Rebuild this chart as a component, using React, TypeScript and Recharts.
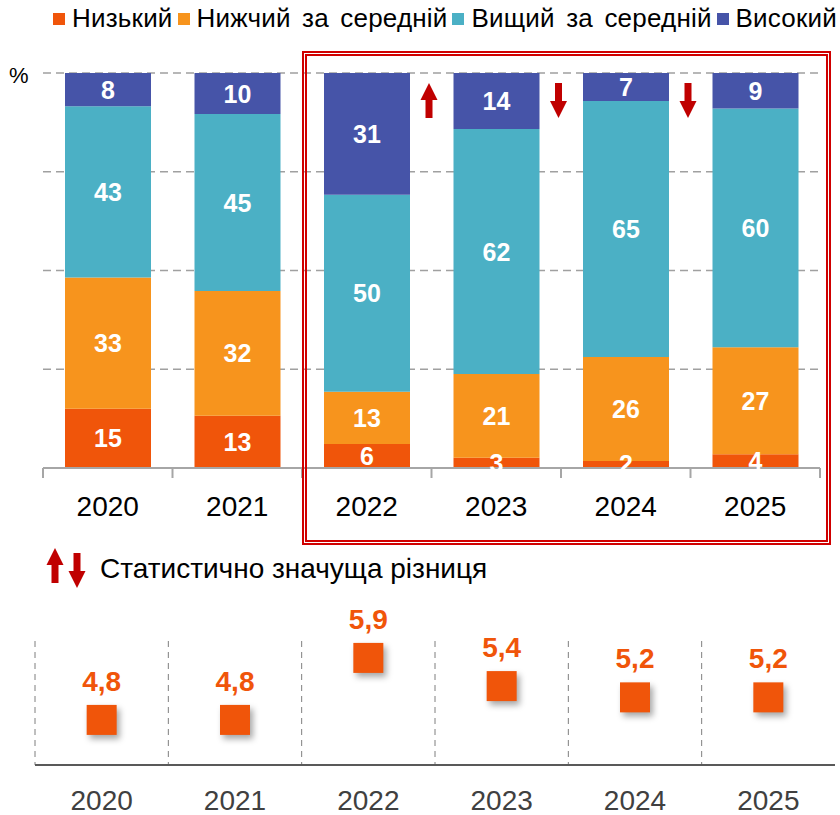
import React from "react";
import { BarChart, Bar, XAxis, YAxis, CartesianGrid, LabelList, ComposedChart, Line } from "recharts";

// ---- data ----
const years = ["2020", "2021", "2022", "2023", "2024", "2025"];
const lowShare = [15.0, 13.2, 6.1, 2.6, 1.8, 3.5];
const lowerMidShare = [33.2, 31.6, 13.2, 21.2, 26.3, 27.1];
const upperMidShare = [43.4, 44.8, 49.9, 62.0, 64.8, 60.4];
const highShare = [8.4, 10.4, 30.8, 14.2, 7.1, 9.0];
const significance = ["", "", "up", "down", "down", ""];
const avgScore = [4.8, 4.8, 5.9, 5.4, 5.2, 5.2];
const seriesKeys = ["low", "lowerMid", "upperMid", "high"];
const seriesNames = ["Низький", "Нижчий за середній", "Вищий за середній", "Високий"];
const seriesColors = ["#F0550A", "#F7941D", "#4BB0C5", "#4654A8"];
const yTicks = [0, 25, 50, 75, 100];
const footnoteText = "Статистично значуща різниця";
const unitLabel = "%";

const FONT = "'Liberation Sans', Arial, sans-serif";
const RED = "#C00000";

const TOP_W = 840;
const TOP_H = 540;
const TOP_MARGIN = { top: 73, right: 20, left: 43, bottom: 0 };
const BAND = (TOP_W - TOP_MARGIN.left - TOP_MARGIN.right) / years.length;

const shareData = years.map((y, i) => ({
  year: y,
  low: lowShare[i],
  lowerMid: lowerMidShare[i],
  upperMid: upperMidShare[i],
  high: highShare[i],
  sig: significance[i],
}));

const scoreData = years.map((y, i) => ({ year: y, score: avgScore[i] }));

const arrowPoints = (cx: number, y0: number, dir: string, h = 35, hw = 8.5, hh = 17, sw = 3.5) => {
  if (dir === "up") {
    return [
      [cx, y0], [cx + hw, y0 + hh], [cx + sw, y0 + hh], [cx + sw, y0 + h],
      [cx - sw, y0 + h], [cx - sw, y0 + hh], [cx - hw, y0 + hh],
    ].map((p) => p.join(",")).join(" ");
  }
  return [
    [cx, y0 + h], [cx + hw, y0 + h - hh], [cx + sw, y0 + h - hh], [cx + sw, y0],
    [cx - sw, y0], [cx - sw, y0 + h - hh], [cx - hw, y0 + h - hh],
  ].map((p) => p.join(",")).join(" ");
};

const SegLabel = (p: any) => {
  const x = Number(p.x ?? p.viewBox?.x);
  const y = Number(p.y ?? p.viewBox?.y);
  const w = Number(p.width ?? p.viewBox?.width);
  const h = Number(p.height ?? p.viewBox?.height);
  return (
    <text
      x={x + w / 2}
      y={y + h / 2}
      textAnchor="middle"
      dominantBaseline="central"
      fill="#fff"
      fontWeight="bold"
      fontSize={25}
      fontFamily={FONT}
    >
      {Math.round(Number(p.value))}
    </text>
  );
};

const SigArrow = (p: any) => {
  if (!p.value) return null;
  const x = Number(p.x ?? p.viewBox?.x);
  const y = Number(p.y ?? p.viewBox?.y);
  const w = Number(p.width ?? p.viewBox?.width);
  return <polygon points={arrowPoints(x + w + 19, y + 10, p.value)} fill={RED} />;
};

const TopTick = (p: any) => {
  const { x, y, payload } = p;
  const half = BAND / 2;
  const isLast = payload.value === years[years.length - 1];
  return (
    <g>
      <line x1={x - half} x2={x - half} y1={y} y2={y + 10} stroke="#a6a6a6" strokeWidth={2} />
      {isLast && <line x1={x + half} x2={x + half} y1={y} y2={y + 10} stroke="#a6a6a6" strokeWidth={2} />}
      <text x={x} y={y + 48} textAnchor="middle" fontSize={28} fill="#000" fontFamily={FONT}>
        {payload.value}
      </text>
    </g>
  );
};

const ScoreDot = (p: any) => {
  if (p.cx == null || p.cy == null) return null;
  return (
    <rect
      key={`sq-${p.index}`}
      x={p.cx - 15}
      y={p.cy - 15}
      width={30}
      height={30}
      fill={seriesColors[0]}
      style={{ filter: "drop-shadow(3px 4px 3px rgba(0,0,0,0.35))" }}
    />
  );
};

const ScoreLabel = (p: any) => {
  const x = Number(p.x ?? p.viewBox?.x);
  const y = Number(p.y ?? p.viewBox?.y);
  return (
    <text x={x} y={y - 29} textAnchor="middle" fill={seriesColors[0]} fontWeight="bold" fontSize={28} fontFamily={FONT}>
      {Number(p.value).toFixed(1).replace(".", ",")}
    </text>
  );
};

export default function App() {
  return (
    <div style={{ position: "absolute", left: 0, top: 0, width: 840, height: 815, background: "#fff", fontFamily: FONT }}>
      {/* legend */}
      <div
        style={{
          position: "absolute",
          left: 53,
          top: 3,
          width: 784,
          display: "flex",
          justifyContent: "space-between",
          alignItems: "center",
          fontSize: 26,
          color: "#000",
          whiteSpace: "nowrap",
          wordSpacing: 4,
          letterSpacing: 0.2,
        }}
      >
        {seriesNames.map((n, i) => (
          <div key={n} style={{ display: "flex", alignItems: "center" }}>
            <span style={{ display: "inline-block", width: 12, height: 12, background: seriesColors[i], marginRight: 7 }} />
            <span>{n}</span>
          </div>
        ))}
      </div>

      <div style={{ position: "absolute", left: 9, top: 63, fontSize: 22, color: "#000" }}>{unitLabel}</div>

      <div style={{ position: "absolute", left: 0, top: 0 }}>
        <BarChart width={TOP_W} height={TOP_H} data={shareData} margin={TOP_MARGIN}>
          <CartesianGrid vertical={false} stroke="#a0a0a0" strokeWidth={1.5} strokeDasharray="8 5" />
          <YAxis hide domain={[0, 100]} ticks={yTicks} />
          <XAxis
            dataKey="year"
            height={72}
            interval={0}
            tickSize={0}
            tickMargin={0}
            tickLine={false}
            axisLine={{ stroke: "#a6a6a6", strokeWidth: 2 }}
            tick={<TopTick />}
          />
          {seriesKeys.map((k, i) => (
            <Bar key={k} dataKey={k} stackId="s" fill={seriesColors[i]} barSize={86} isAnimationActive={false}>
              <LabelList dataKey={k} content={SegLabel} />
              {k === "high" && <LabelList dataKey="sig" content={SigArrow} />}
            </Bar>
          ))}
        </BarChart>
      </div>

      {/* highlight box */}
      <div
        style={{
          position: "absolute",
          left: 302,
          top: 51,
          width: 529,
          height: 494,
          boxSizing: "border-box",
          border: "5px double #D00000",
          pointerEvents: "none",
        }}
      />

      {/* footnote */}
      <svg style={{ position: "absolute", left: 0, top: 540 }} width={100} height={60}>
        <polygon points={arrowPoints(55, 8, "up")} fill={RED} />
        <polygon points={arrowPoints(77, 13, "down")} fill={RED} />
      </svg>
      <div style={{ position: "absolute", left: 100, top: 553, fontSize: 28, color: "#000", whiteSpace: "nowrap" }}>
        {footnoteText}
      </div>

      <div style={{ position: "absolute", left: 0, top: 600 }}>
        <ComposedChart width={840} height={215} data={scoreData} margin={{ top: 41, right: 5, left: 35, bottom: 0 }}>
          <CartesianGrid
            horizontal={false}
            stroke="#7f7f7f"
            strokeDasharray="6 5"
            verticalCoordinatesGenerator={(args: any) => {
              const left = args?.offset?.left ?? 35;
              const w = args?.offset?.width ?? 800;
              return years.map((_, i) => left + (i * w) / years.length);
            }}
          />
          <XAxis
            dataKey="year"
            scale="band"
            height={50}
            interval={0}
            tickLine={false}
            tickSize={0}
            tickMargin={25}
            axisLine={{ stroke: "#595959", strokeWidth: 2 }}
            tick={{ fontSize: 28, fill: "#404040", fontFamily: FONT }}
          />
          <YAxis hide domain={[4, 6.2]} />
          <Line dataKey="score" stroke="none" isAnimationActive={false} dot={ScoreDot} activeDot={false}>
            <LabelList dataKey="score" content={ScoreLabel} />
          </Line>
        </ComposedChart>
      </div>
    </div>
  );
}
